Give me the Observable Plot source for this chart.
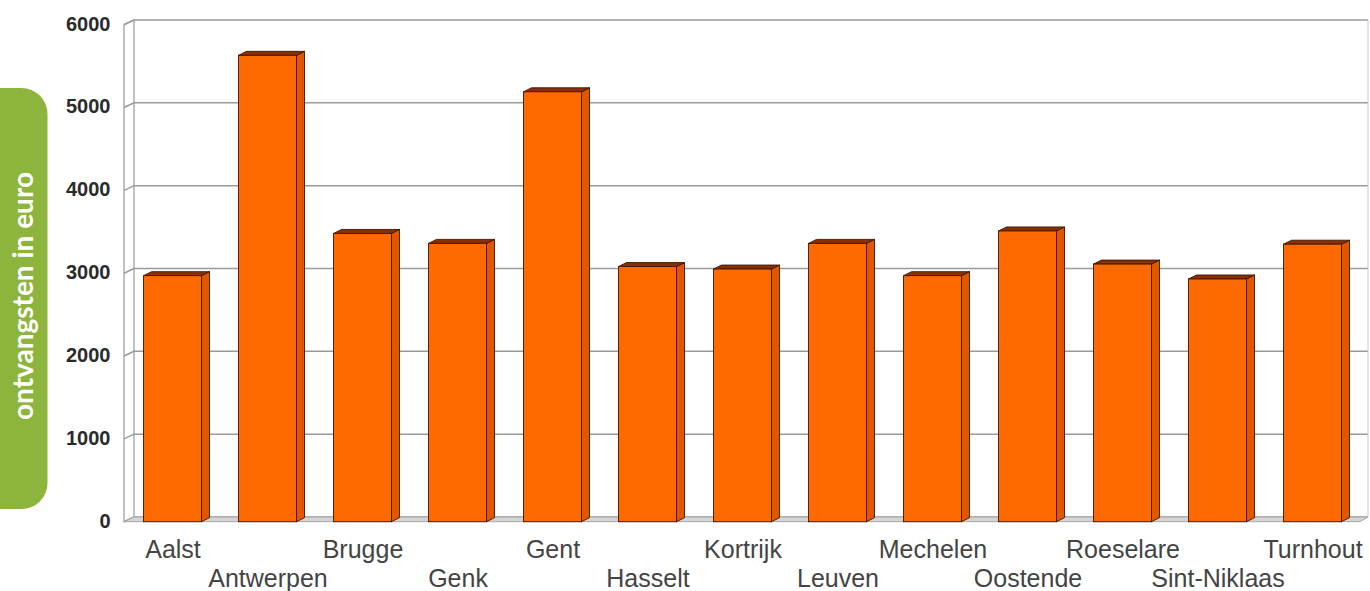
<!DOCTYPE html>
<html>
<head>
<meta charset="utf-8">
<script src="https://cdn.jsdelivr.net/npm/d3@7"></script>
<script src="https://cdn.jsdelivr.net/npm/@observablehq/plot@0.6"></script>
<style>
  html, body { margin: 0; padding: 0; background: #fff; }
  #wrap { position: relative; width: 1370px; height: 591px; overflow: hidden; }
  #side-label { position: absolute; left: 0; top: 0; }
</style>
</head>
<body>
<div id="wrap">
  <div id="chart"></div>
  <svg id="side-label" width="60" height="591"></svg>
</div>
<script>
// Receipts per city (euro)
const cities = ["Aalst", "Antwerpen", "Brugge", "Genk", "Gent", "Hasselt", "Kortrijk",
  "Leuven", "Mechelen", "Oostende", "Roeselare", "Sint-Niklaas", "Turnhout"];
const receipts = [2970, 5630, 3480, 3360, 5190, 3080, 3050, 3360, 2970, 3510, 3110, 2930, 3350];
const yTicks = [0, 1000, 2000, 3000, 4000, 5000, 6000];
const axisTitle = "ontvangsten in euro";

const rows = cities.map((city, i) => ({city, value: receipts[i], row: i % 2}));

// depth of the pseudo-3D box and of each column
const DX = 10, DY = -4.7;
const BX = 8, BY = -4;

// back wall gridlines, left wall and floor
function walls(index, {x, y}, values, dims) {
  const g = d3.create("svg:g");
  const x0 = dims.marginLeft, x1 = dims.width - dims.marginRight;
  const yb = y(0), yt = y(6000);
  // left wall
  g.append("path")
    .attr("d", `M${x0},${yb}L${x0},${yt}L${x0 + DX},${yt + DY}L${x0 + DX},${yb + DY}Z`)
    .attr("fill", "#fff").attr("stroke", "#9a9a9a").attr("stroke-width", 1.2);
  // gridlines on the back wall, continued across the left wall
  for (const t of yTicks) {
    const yy = y(t);
    g.append("path")
      .attr("d", `M${x0},${yy}L${x0 + DX},${yy + DY}L${x1 + DX - 2},${yy + DY}`)
      .attr("fill", "none").attr("stroke", "#9a9a9a").attr("stroke-width", 1.5);
  }
  // right edge of the back wall
  g.append("line")
    .attr("x1", x1 + DX - 2).attr("x2", x1 + DX - 2)
    .attr("y1", yt + DY).attr("y2", yb + DY)
    .attr("stroke", "#c8c8c8").attr("stroke-width", 1);
  // floor
  g.append("path")
    .attr("d", `M${x0},${yb}L${x1},${yb}L${x1 + DX - 2},${yb + DY}L${x0 + DX},${yb + DY}Z`)
    .attr("fill", "#d4d4d4").attr("stroke", "#a8a8a8").attr("stroke-width", 1);
  return g.node();
}

// side and top faces of every column
function columnDepth(index, {x, y}) {
  const g = d3.create("svg:g").attr("stroke", "#3d1600").attr("stroke-width", 0.9).attr("stroke-linejoin", "round");
  const bw = typeof x.bandwidth === "function" ? x.bandwidth() : x.bandwidth;
  const inset = (bw - 58) / 2;
  for (const d of rows) {
    const xl = x(d.city) + inset, xr = x(d.city) + bw - inset;
    const yv = y(d.value), y0 = y(0);
    g.append("path")
      .attr("d", `M${xr},${yv}L${xr + BX},${yv + BY}L${xr + BX},${y0 + BY}L${xr},${y0}Z`)
      .attr("fill", "#e25600");
    g.append("path")
      .attr("d", `M${xl},${yv}L${xl + BX},${yv + BY}L${xr + BX},${yv + BY}L${xr},${yv}Z`)
      .attr("fill", "#8a3000");
  }
  return g.node();
}

const chart = Plot.plot({
  width: 1370,
  height: 591,
  marginLeft: 124,
  marginRight: 10,
  marginTop: 24.7,
  marginBottom: 69.3,
  style: {fontFamily: "'Liberation Sans', Arial, sans-serif", overflow: "visible", background: "transparent"},
  x: {domain: cities, padding: 0, axis: null},
  y: {domain: [0, 6000], ticks: yTicks, tickFormat: d => String(d), label: null},
  marks: [
    walls,
    Plot.axisY(yTicks, {tickSize: 0, tickPadding: 14, fontSize: 20, fontWeight: "bold", fill: "#2a2a2a", dy: -1, label: null, tickFormat: d => String(d)}),
    columnDepth,
    Plot.barY(rows, {x: "city", y: "value", fill: "#ff6a00", stroke: "#3d1600", strokeWidth: 0.9, insetLeft: 18.5, insetRight: 18.5}),
    Plot.text(rows.filter(d => d.row === 0), {x: "city", text: "city", frameAnchor: "bottom", lineAnchor: "middle", dy: 27.5, fontSize: 25, fill: "#444"}),
    Plot.text(rows.filter(d => d.row === 1), {x: "city", text: "city", frameAnchor: "bottom", lineAnchor: "middle", dy: 56.5, fontSize: 25, fill: "#444"})
  ]
});
document.getElementById("chart").append(chart);

// green rounded tab holding the vertical axis title
const tab = d3.select("#side-label");
tab.append("rect")
  .attr("x", -30).attr("y", 88).attr("width", 77.5).attr("height", 421)
  .attr("rx", 26).attr("fill", "#8db43c");
tab.append("text")
  .attr("transform", "translate(32.5,296) rotate(-90)")
  .attr("text-anchor", "middle")
  .attr("fill", "#fff")
  .attr("font-family", "Lato, 'Open Sans', sans-serif")
  .attr("font-weight", "bold")
  .attr("font-size", 28)
  .text(axisTitle);
</script>
</body>
</html>
